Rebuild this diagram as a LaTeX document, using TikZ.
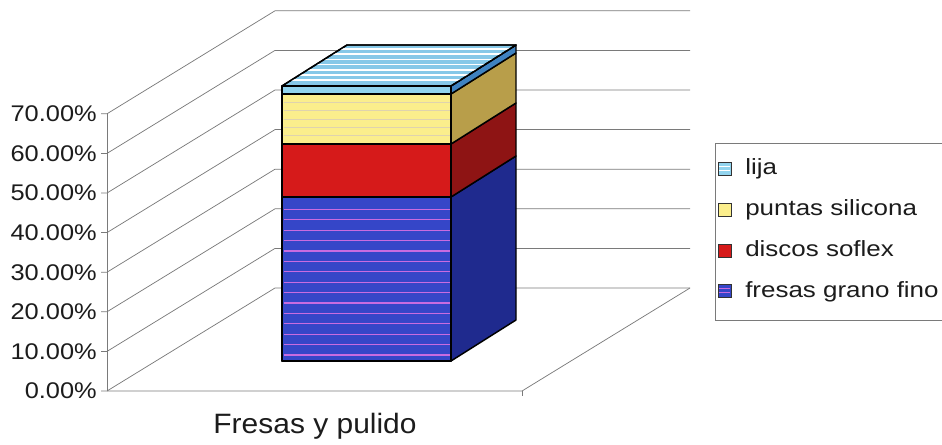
\documentclass[tikz,border=0pt]{standalone}
\usepackage{fontspec}
\setmainfont{Liberation Sans}
\newfontfamily\chartfont[FakeStretch=1.12]{Liberation Sans}
\newfontfamily\legendfont[FakeStretch=1.18]{Liberation Sans}
\newfontfamily\catfont[FakeStretch=1.07]{Liberation Sans}
\definecolor{bluefront}{HTML}{3546C8}
\definecolor{blueside}{HTML}{1F2A8E}
\definecolor{redfront}{HTML}{D61A1A}
\definecolor{redside}{HTML}{8E1414}
\definecolor{yellowfront}{HTML}{FBEE8C}
\definecolor{yellowside}{HTML}{B89E4A}
\definecolor{lijafront}{HTML}{92D4EE}
\definecolor{lijaside}{HTML}{3F82C0}
\definecolor{lijatop}{HTML}{86C8E8}
\definecolor{pinkline}{HTML}{C86BE0}
\definecolor{gridgray}{HTML}{7A7A7A}
\definecolor{inkdark}{HTML}{1C1C1C}
\tikzset{
  gridline/.style={draw=gridgray, line width=0.55pt},
  barface/.style={draw=black, line width=1.1pt, line join=round},
  axislabel/.style={font=\chartfont\fontsize{17}{20}\selectfont, text=inkdark, anchor=east, inner sep=0pt},
  legendtext/.style={font=\legendfont\fontsize{16.5}{19}\selectfont, text=inkdark, anchor=base west, inner sep=0pt},
  catlabel/.style={font=\catfont\fontsize{21}{25}\selectfont, text=inkdark, anchor=base, inner sep=0pt},
  swatch/.style={draw=black!80, line width=0.6pt}
}
\begin{document}
\begin{tikzpicture}[x=0.75pt,y=-0.75pt]
\useasboundingbox (0,0) rectangle (942,445);

% ---- walls and grid ----
\foreach \i in {0,...,7}{
  \pgfmathsetmacro{\yy}{391-39.6*\i}
  \draw[gridline] (101,\yy) -- (107,\yy) -- (275,\yy-103) -- (690,\yy-103);
  \pgfmathsetmacro{\pc}{int(10*\i)}
  \node[axislabel] (tick\i) at (97,\yy) {\pc.00\%};
}
\draw[gridline] (107,391) -- (107,113.8);
\draw[gridline] (107,391) -- (522,391) -- (690,288);
\draw[gridline] (522,391) -- (522,396);

% ---- bar: side faces ----
\filldraw[barface, fill=blueside]   (451,361) -- (516,320) -- (516,156) -- (451,197) -- cycle;
\filldraw[barface, fill=redside]    (451,197) -- (516,156) -- (516,103) -- (451,144) -- cycle;
\filldraw[barface, fill=yellowside] (451,144) -- (516,103) -- (516,53)  -- (451,94)  -- cycle;
\filldraw[barface, fill=lijaside]   (451,94)  -- (516,53)  -- (516,45)  -- (451,86)  -- cycle;

% ---- bar: top face ----
\filldraw[barface, fill=lijatop] (282,86) -- (347,45) -- (516,45) -- (451,86) -- cycle;
\begin{scope}
  \clip (282,86) -- (347,45) -- (516,45) -- (451,86) -- cycle;
  \foreach \k in {0,...,7}{
    \draw[white, line width=1.1pt] (270,49+5.2*\k) -- (530,49+5.2*\k);
  }
\end{scope}
\draw[barface] (282,86) -- (347,45) -- (516,45) -- (451,86) -- cycle;

% ---- bar: front faces ----
\filldraw[barface, fill=bluefront]   (282,361) rectangle (451,197);
\foreach \k in {0,...,14}{
  \draw[pinkline, line width=0.9pt] (283.5,355-10.4*\k) -- (449.5,355-10.4*\k);
}
\draw[barface] (282,361) rectangle (451,197);
\filldraw[barface, fill=redfront]    (282,197) rectangle (451,144);
\filldraw[barface, fill=yellowfront] (282,144) rectangle (451,94);
\foreach \k in {1,...,5}{
  \draw[yellowside!45, line width=0.5pt] (283.5,94+8.3*\k) -- (449.5,94+8.3*\k);
}
\draw[barface] (282,144) rectangle (451,94);
\filldraw[barface, fill=lijafront]   (282,94) rectangle (451,86);

% ---- category label ----
\node[catlabel] (cat) at (315,433) {Fresas y pulido};

% ---- legend ----
\draw[gridline] (942,143) -- (715,143) -- (715,320) -- (942,320);
\filldraw[swatch, fill=lijafront]   (718,162) rectangle (731,175);
\draw[white, line width=0.6pt] (719,166) -- (730,166) (719,170) -- (730,170);
\node[legendtext] (leglija) at (745,175) {lija};
\filldraw[swatch, fill=yellowfront] (718,203) rectangle (731,216);
\node[legendtext] (legpuntas) at (745,216) {puntas silicona};
\filldraw[swatch, fill=redfront]    (718,244) rectangle (731,257);
\node[legendtext] (legdiscos) at (745,257) {discos soflex};
\filldraw[swatch, fill=bluefront]   (718,284) rectangle (731,297);
\draw[pinkline, line width=0.6pt] (719,288) -- (730,288) (719,292) -- (730,292);
\node[legendtext] (legfresas) at (745,297) {fresas grano fino};
\end{tikzpicture}
\end{document}
